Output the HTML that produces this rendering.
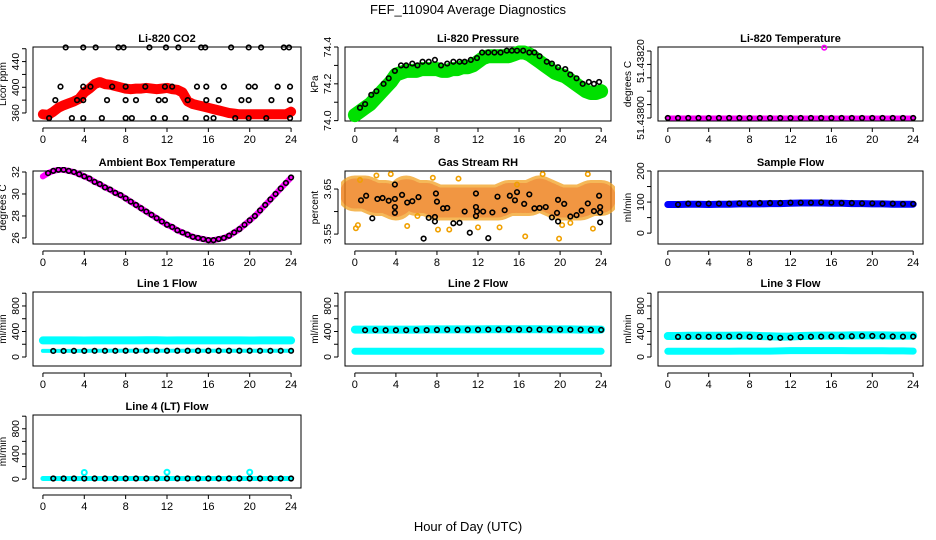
<!DOCTYPE html>
<html><head><meta charset="utf-8"><style>
html,body{margin:0;padding:0;background:#fff;}
svg{display:block;font-family:"Liberation Sans",Arial,sans-serif;}
</style></head><body>
<svg id="chart" width="936" height="540" viewBox="0 0 936 540">
<text x="468" y="14" text-anchor="middle" font-size="13">FEF_110904  Average Diagnostics</text>
<text x="468" y="531" text-anchor="middle" font-size="13">Hour of Day (UTC)</text>
</svg>
<script>
const xTicks=[0,4,8,12,16,20,24];
const halfHours=[0,0.5,1,1.5,2,2.5,3,3.5,4,4.5,5,5.5,6,6.5,7,7.5,8,8.5,9,9.5,10,10.5,11,11.5,12,12.5,13,13.5,14,14.5,15,15.5,16,16.5,17,17.5,18,18.5,19,19.5,20,20.5,21,21.5,22,22.5,23,23.5,24];
const hours=[0,1,2,3,4,5,6,7,8,9,10,11,12,13,14,15,16,17,18,19,20,21,22,23,24];
// CO2
const co2Red=[358,357,362,368,372,375,378,382,392,398,405,408,405,404,402,400,398,397,398,398,399,398,397,398,399,397,396,392,378,374,372,370,368,366,364,362,360,359,358,358,358,358,358,358,358,358,358,358,362];
const co2BlackX=[2.2,3.9,5.1,7.3,7.8,10.3,11.9,13.1,15.3,15.7,18.2,19.9,21.1,23.3,23.8,1.7,3.9,4.6,6.7,8.0,9.9,11.8,12.5,14.9,15.8,17.5,19.9,20.5,22.7,23.9,1.2,3.3,3.9,6.2,8.0,9.0,11.2,11.8,14.0,15.8,17.0,19.2,19.9,22.1,23.9,0.6,2.8,3.9,5.7,8.0,8.6,10.7,11.8,13.8,15.8,16.5,18.6,19.9,21.6,23.9];
const co2BlackY=[462,462,462,462,462,462,462,462,462,462,462,462,462,462,462,401,401,401,401,401,401,401,401,401,401,401,401,401,401,401,380,380,380,380,380,380,380,380,380,380,380,380,380,380,380,352,352,352,352,352,352,352,352,352,352,352,352,352,352,352];
// Pressure
const presGreen=[74.03,74.05,74.07,74.09,74.12,74.15,74.18,74.21,74.25,74.26,74.27,74.27,74.27,74.28,74.28,74.28,74.28,74.27,74.27,74.28,74.28,74.29,74.29,74.30,74.32,74.34,74.35,74.35,74.35,74.35,74.35,74.36,74.37,74.37,74.36,74.34,74.32,74.30,74.28,74.26,74.25,74.24,74.22,74.20,74.18,74.16,74.15,74.15,74.16];
const presBlackX=[0.5,1,1.6,2.1,2.8,3.3,3.9,4.5,5,5.6,6.1,6.6,7.2,7.8,8.4,9,9.6,10.2,10.7,11.3,11.9,12.4,13,13.6,14.2,14.8,15.3,15.8,16.4,17,17.5,18,18.7,19.2,19.8,20.5,21,21.6,22.2,22.8,23.3,23.8];
const presBlackY=[74.07,74.09,74.14,74.16,74.20,74.23,74.27,74.30,74.30,74.31,74.30,74.32,74.32,74.33,74.30,74.31,74.32,74.32,74.32,74.33,74.34,74.37,74.37,74.37,74.37,74.38,74.38,74.38,74.38,74.37,74.37,74.35,74.32,74.31,74.29,74.28,74.25,74.23,74.20,74.21,74.20,74.21];
// Li-820 temperature (offset from 51.43800, units of 1e-5)
const ltBlack=[0,0,0,0,0,0,0,0,0,0,0,0,0,0,0,0,0,0,0,0,0,0,0,0,0];
const ltOutlierX=[15.3];
const ltOutlierY=[21];
// Ambient
const ambTemp=[31.6,31.9,32.1,32.2,32.2,32.1,32.0,31.8,31.6,31.4,31.1,30.9,30.6,30.4,30.1,29.9,29.6,29.3,29.0,28.7,28.4,28.1,27.8,27.5,27.2,27.0,26.7,26.5,26.3,26.1,26.0,25.9,25.8,25.8,25.9,26.0,26.2,26.5,26.8,27.2,27.6,28.0,28.5,29.0,29.5,30.0,30.5,31.0,31.5];
// RH
const rhOrange=[3.64,3.64,3.63,3.63,3.62,3.64,3.63,3.63,3.62,3.62,3.62,3.62,3.62,3.62,3.62,3.63,3.63,3.63,3.64,3.63,3.62,3.62,3.62,3.63,3.63];
const rhOutX=[0.1,0.3,2.1,3.5,5.1,6.1,8.1,9.2,10.1,12.0,14.1,16.6,18.3,19.9,20.2,22.7,23.2,0.5,7.6,15.8,21.0];
const rhOutY=[3.563,3.57,3.68,3.683,3.568,3.59,3.56,3.56,3.673,3.565,3.565,3.545,3.683,3.54,3.57,3.683,3.562,3.67,3.675,3.66,3.575];
const rhBlackX=[0.6,1.1,1.7,2.2,2.7,3.3,3.9,3.9,3.9,3.9,4.6,5.1,5.6,6.2,6.7,7.2,7.8,7.8,7.9,8.0,8.6,9.0,9.6,10.2,10.7,11.2,11.8,11.8,11.8,11.9,12.5,13.0,13.4,13.9,14.6,15.1,15.6,15.8,16.5,17.0,17.5,18.0,18.6,19.2,19.7,19.8,19.8,20.4,21.0,21.6,22.1,22.7,23.3,23.8,23.9,23.9,23.9];
const rhBlackY=[3.625,3.635,3.585,3.628,3.63,3.624,3.66,3.61,3.597,3.628,3.637,3.62,3.623,3.632,3.54,3.586,3.588,3.578,3.64,3.622,3.607,3.608,3.574,3.575,3.60,3.553,3.64,3.61,3.59,3.60,3.60,3.541,3.598,3.633,3.603,3.635,3.625,3.643,3.617,3.638,3.607,3.608,3.61,3.587,3.597,3.578,3.626,3.617,3.589,3.592,3.602,3.618,3.601,3.635,3.61,3.598,3.576];
// Flows (hourly)
const sampleBlue=[92,92,93,93,92,93,93,94,94,94,95,95,96,97,97,97,96,96,95,95,94,94,93,93,93];
const sampleBlack=[90,92,95,94,95,95,95,96,96,97,97,97,98,98,98,99,98,97,97,96,96,95,95,94,94];
const l1CyanHi=[260,260,260,260,258,260,260,260,260,260,262,262,258,260,260,260,260,260,260,260,258,260,260,260,260];
const l1Black=[95,95,95,96,96,97,97,97,98,98,98,98,98,98,98,98,98,98,98,98,98,97,97,97,97];
const l2CyanHi=[430,430,430,430,430,430,430,432,432,432,432,432,432,435,435,435,435,435,435,432,432,432,430,430,430];
const l2CyanLo=[90,90,90,90,90,90,90,90,90,90,90,90,90,90,90,90,90,90,90,90,90,90,90,90,90];
const l2Black=[420,420,422,420,420,420,422,422,425,428,425,428,428,430,430,432,430,430,430,428,430,428,428,425,425];
const l3CyanHi=[330,330,332,332,332,332,332,335,335,330,325,320,322,330,332,335,335,335,338,338,338,338,336,335,335];
const l3CyanLo=[90,90,90,90,90,90,90,92,92,92,92,95,100,100,100,100,100,100,98,98,98,98,95,95,92];
const l3Black=[310,315,315,318,318,320,322,322,318,315,305,300,305,312,318,320,322,322,325,330,330,325,322,320,320];
const l4Black=[10,10,10,10,10,10,10,10,10,10,10,10,10,10,10,10,10,10,10,10,10,10,10,10,10];
const l4OutX=[4,12,20];
const l4OutY=[105,110,110];

const NS="http://www.w3.org/2000/svg";
const svg=document.getElementById('chart');
function mk(tag,attrs,parent){const e=document.createElementNS(NS,tag);for(const k in attrs)e.setAttribute(k,attrs[k]);(parent||svg).appendChild(e);return e;}
function panel(name,title,L,R,T,B,ymin,ymax,yTicks,yLabels,ylab){
  const g=mk('g',{});
  
  
  const xs=v=>L+(v+0.96)/25.92*(R-L);
  const ys=v=>B-(v-ymin)/(ymax-ymin)*(B-T);
  const t=mk('text',{x:(L+R)/2,y:T-5,'text-anchor':'middle','font-size':'11','font-weight':'bold'},g);
  t.textContent=title;
  
  
  const fr=mk('rect',{x:L,y:T,width:R-L,height:B-T,fill:'none',stroke:'#000','stroke-width':1},g);
  
  
  const xa=mk('g',{},g);
  
  
  mk('line',{x1:xs(xTicks[0]),x2:xs(xTicks[xTicks.length-1]),y1:B+7,y2:B+7,stroke:'#000'},xa);
  xTicks.forEach(v=>{mk('line',{x1:xs(v),x2:xs(v),y1:B+7,y2:B+11,stroke:'#000'},xa);
    const tl=mk('text',{x:xs(v),y:B+22,'text-anchor':'middle','font-size':'11'},xa);tl.textContent=v;
    
    });
  const ya=mk('g',{},g);
  
  
  mk('line',{x1:L-7,x2:L-7,y1:ys(yTicks[0]),y2:ys(yTicks[yTicks.length-1]),stroke:'#000'},ya);
  yTicks.forEach(v=>mk('line',{x1:L-11,x2:L-7,y1:ys(v),y2:ys(v),stroke:'#000'},ya));
  yLabels.forEach(p=>{const yy=ys(p[0]);const tl=mk('text',{x:L-14,y:yy,'text-anchor':'middle','font-size':'10.5',transform:`rotate(-90 ${L-14} ${yy})`},ya);tl.textContent=p[1];
    
    });
  const yl=mk('text',{x:L-27,y:(T+B)/2,'text-anchor':'middle','font-size':'10',transform:`rotate(-90 ${L-27} ${(T+B)/2})`},g);yl.textContent=ylab;
  
  
  const clipId='c'+name;const cp=mk('clipPath',{id:clipId},g);mk('rect',{x:L-4,y:T-4,width:R-L+8,height:B-T+8},cp);
  const d=mk('g',{'clip-path':`url(#${clipId})`},g);
  
  
  return {g:d,xs,ys};
}
function band(p,xa,ya,color,w,name,op,dash){
  const pts=xa.map((x,i)=>p.xs(x).toFixed(1)+','+p.ys(ya[i]).toFixed(1)).join(' ');
  const e=mk('polyline',{points:pts,fill:'none',stroke:color,'stroke-width':w,'stroke-linejoin':'round','stroke-linecap':'round','stroke-opacity':op||1},p.g);
  if(dash)e.setAttribute('stroke-dasharray',dash);
  
  
}
function pts(p,xa,ya,color,r,name,sw){
  xa.forEach((x,i)=>{const c=mk('circle',{cx:p.xs(x),cy:p.ys(ya[i]),r:r,fill:'none',stroke:color,'stroke-width':sw||1.6},p.g);
    
    });
}
const C1=[33,301],C2=[345,611],C3=[658,923];
const R1=[47,121],R2=[171,244],R3=[292,366],R4=[415,488];
const flowTicks=[0,200,400,600,800,1000],flowLabels=[[0,'0'],[400,'400'],[800,'800']];

let p=panel('co2','Li-820 CO2',C1[0],C1[1],R1[0],R1[1],347.5,462.7,[360,380,400,420,440,460],[[360,'360'],[400,'400'],[440,'440']],'Licor ppm');
band(p,halfHours,co2Red,'#ff0000',10,'co2-red-series');
pts(p,co2BlackX,co2BlackY,'#000',2.3,'co2-black-point');

p=panel('pressure','Li-820 Pressure',C2[0],C2[1],R1[0],R1[1],73.998,74.4,[74.0,74.1,74.2,74.3,74.4],[[74.0,'74.0'],[74.2,'74.2'],[74.4,'74.4']],'kPa');
band(p,halfHours,presGreen,'#00e000',14,'pressure-green-series');
pts(p,presBlackX,presBlackY,'#000',2.3,'pressure-black-point');

p=panel('licor-temp','Li-820 Temperature',C3[0],C3[1],R1[0],R1[1],-0.9,21.2,[0,4,8,12,16,20],[[0,'51.43800'],[17,'51.43820']],'degrees C');
band(p,hours,ltBlack,'#ff00ff',5,'licor-temp-magenta-series');
pts(p,hours,ltBlack,'#000',2.3,'licor-temp-black-point');
pts(p,ltOutlierX,ltOutlierY,'#ff00ff',2.3,'licor-temp-outlier');

p=panel('ambient','Ambient Box Temperature',C1[0],C1[1],R2[0],R2[1],25.45,32.09,[26,28,30,32],[[26,'26'],[28,'28'],[30,'30'],[32,'32']],'degrees C');
band(p,halfHours,ambTemp,'#ff00ff',6,'ambient-magenta-series');
pts(p,halfHours.slice(1),ambTemp.slice(1),'#000',2.3,'ambient-black-point');

p=panel('rh','Gas Stream RH',C2[0],C2[1],R2[0],R2[1],3.528,3.69,[3.55,3.60,3.65],[[3.55,'3.55'],[3.65,'3.65']],'percent');
band(p,hours,rhOrange,'#f2a020',36,'rh-orange-band',0.75);
band(p,hours,rhOrange,'#e83000',30,'rh-red-dot-texture',0.25,'1.5 3');
pts(p,rhOutX,rhOutY,'#f0a000',2.2,'rh-orange-point');
pts(p,rhBlackX,rhBlackY,'#000',2.3,'rh-black-point');

p=panel('sample-flow','Sample Flow',C3[0],C3[1],R2[0],R2[1],-35,200,[0,50,100,150,200],[[0,'0'],[100,'100'],[200,'200']],'ml/min');
band(p,hours,sampleBlue,'#0000ff',7,'sample-flow-blue-series');
pts(p,hours.slice(1),sampleBlack.slice(1),'#000',2.3,'sample-flow-black-point');

p=panel('line1','Line 1 Flow',C1[0],C1[1],R3[0],R3[1],-141,1019,flowTicks,flowLabels,'ml/min');
band(p,hours,l1CyanHi,'#00ffff',8,'line1-cyan-series');
band(p,hours,l1Black,'#00ffff',4,'line1-cyan-low-series');
pts(p,hours.slice(1),l1Black.slice(1),'#000',2.3,'line1-black-point');

p=panel('line2','Line 2 Flow',C2[0],C2[1],R3[0],R3[1],-141,1019,flowTicks,flowLabels,'ml/min');
band(p,hours,l2CyanHi,'#00ffff',8,'line2-cyan-high-series');
band(p,hours,l2CyanLo,'#00ffff',7,'line2-cyan-low-series');
pts(p,hours.slice(1),l2Black.slice(1),'#000',2.3,'line2-black-point');

p=panel('line3','Line 3 Flow',C3[0],C3[1],R3[0],R3[1],-141,1019,flowTicks,flowLabels,'ml/min');
band(p,hours,l3CyanHi,'#00ffff',8,'line3-cyan-high-series');
band(p,hours,l3CyanLo,'#00ffff',7,'line3-cyan-low-series');
pts(p,hours.slice(1),l3Black.slice(1),'#000',2.3,'line3-black-point');

p=panel('line4','Line 4 (LT) Flow',C1[0],C1[1],R4[0],R4[1],-141,1019,flowTicks,flowLabels,'ml/min');
band(p,hours,l4Black,'#00ffff',5,'line4-cyan-series');
pts(p,hours.slice(1),l4Black.slice(1),'#000',2.3,'line4-black-point');
pts(p,l4OutX,l4OutY,'#00ffff',2.5,'line4-cyan-outlier',2);
</script>
</body></html>
